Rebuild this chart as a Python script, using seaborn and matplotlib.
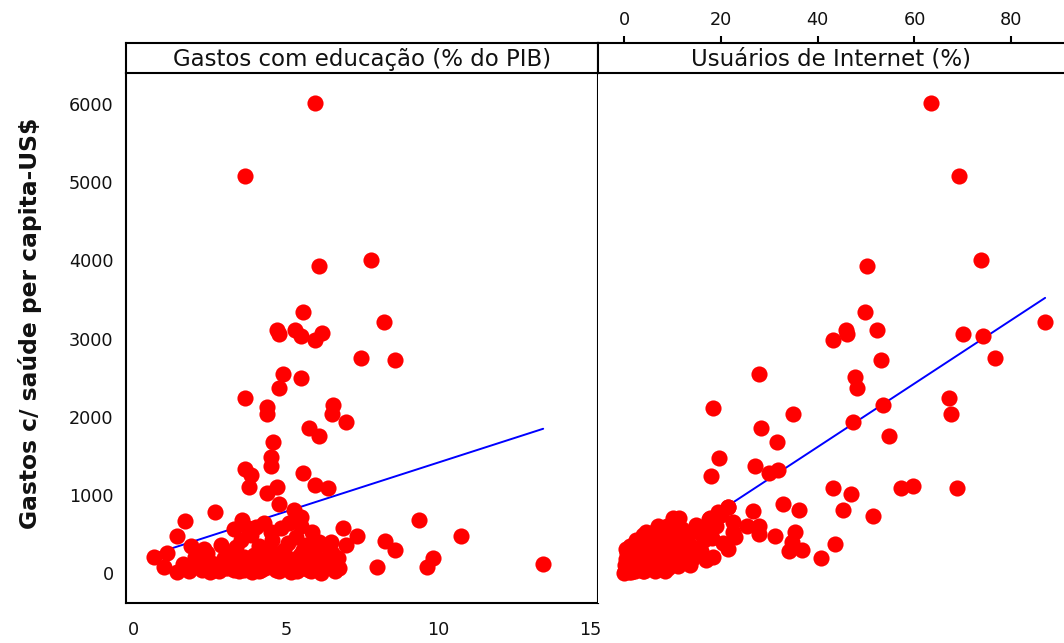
import matplotlib
matplotlib.use("Agg")
import matplotlib.pyplot as plt
import numpy as np
import pandas as pd
import seaborn as sns

# Health spending per capita (US$) against education spending (% of GDP)
edu_x = [5.96, 3.66, 6.09, 7.80, 5.56, 8.20, 4.70, 4.77, 5.30, 5.50, 5.95, 6.17,
         7.46, 8.58, 4.90, 5.49, 4.75, 3.66, 4.37, 4.37, 6.54, 6.52, 6.95, 5.75,
         6.09, 4.58, 4.50, 4.50, 3.65, 3.86, 3.78, 5.56, 5.95, 6.36, 4.37, 4.70,
         4.77, 9.37, 2.67, 1.68, 1.43, 10.75, 13.44, 7.99, 9.63, 9.83, 8.59, 8.26,
         7.33, 6.87, 0.66, 1.09, 1.00, 1.43, 1.89,
         1.98, 2.25, 2.41, 2.63, 2.85, 2.96, 3.07, 3.29, 3.40, 3.56, 3.51, 3.73,
         3.62, 3.95, 3.89, 4.17, 4.28, 4.39, 4.49, 4.66, 4.71, 4.82, 4.93, 5.15,
         5.26, 5.32, 5.48, 5.48, 5.54, 5.59, 5.75, 5.92, 6.08, 6.14, 6.47, 6.52,
         6.69, 6.74, 6.96,
         2.10, 2.35, 2.50, 2.75, 3.00, 3.15, 3.35, 3.50, 3.80, 3.85, 4.00, 4.10,
         4.25, 4.45, 4.55, 4.60, 4.85, 5.00, 5.05, 5.20, 5.35, 5.45, 5.65, 5.70,
         5.85, 6.00, 6.30, 6.40, 6.60, 4.00, 3.30, 5.10, 2.30,
         1.60, 1.80, 2.00, 2.20, 2.45, 2.60, 2.80, 2.90, 3.10, 3.25, 3.45, 3.60,
         3.75, 3.95, 4.10, 4.30, 4.50, 4.75, 4.95, 5.10, 5.30, 5.55, 5.80, 6.05,
         6.20]
edu_y = [6010, 5085, 3935, 4005, 3340, 3215, 3110, 3055, 3110, 3035, 2980, 3070,
         2750, 2725, 2545, 2495, 2365, 2240, 2120, 2035, 2145, 2035, 1935, 1860,
         1755, 1675, 1490, 1375, 1325, 1255, 1095, 1275, 1120, 1090, 1020, 1095,
         885, 680, 775, 660, 475, 475, 120, 70, 70, 195, 295, 405,
         475, 575, 200, 255, 80, 15, 350,
         100, 40, 250, 40, 360, 190, 270, 40, 145, 680, 420, 570,
         40, 230, 15, 40, 635, 295, 530, 40, 165, 570, 295, 15,
         805, 465, 720, 595, 295, 145, 40, 270, 400, 0, 400, 250,
         190, 60, 360,
         160, 110, 10, 120, 60, 210, 330, 100, 160, 480, 80, 350,
         200, 110, 420, 260, 60, 200, 380, 110, 30, 230, 360, 120,
         520, 190, 90, 300, 20, 590, 560, 640, 300,
         120, 30, 200, 80, 150, 60, 20, 110, 60, 150, 20, 200,
         90, 140, 20, 60, 180, 20, 130, 80, 180, 60, 20, 100,
         170]

# Health spending per capita (US$) against internet users (%)
net_x = [63.4, 69.2, 50.2, 73.7, 49.8, 87.0, 45.8, 46.1, 43.1, 52.3, 70.0, 74.2,
         53.0, 76.6, 27.9, 47.7, 48.1, 67.1, 67.6, 53.5, 18.4, 47.3, 34.9, 28.3,
         54.7, 31.6, 19.6, 27.0, 18.0, 29.9, 31.9, 43.1, 46.9, 57.2, 59.7, 68.8,
         32.9, 36.1, 45.2, 51.5, 43.5, 40.7, 31.2, 35.3, 34.1, 36.7, 34.6, 26.6,
         27.9, 27.9, 25.3, 21.5, 20.0, 22.4, 21.5, 18.4, 17.5, 18.2, 15.3, 11.4,
         7.0, 3.8,
         0.2, 0.5, 0.8, 1.0, 1.3, 1.5, 1.8, 2.0, 2.3, 2.6, 2.9, 0.4, 1.1, 0.7,
         1.6, 2.2, 0.9, 0.3, 1.9, 2.7,
         3.2, 3.5, 3.8, 4.1, 4.4, 4.8, 5.0, 5.3, 5.7, 6.0, 6.3, 6.6, 7.0, 7.4,
         7.8, 3.0, 4.5, 5.5, 6.1, 7.5, 3.6, 4.2, 5.9,
         8.2, 8.6, 9.0, 9.4, 9.9, 10.3, 10.8, 11.2, 11.7, 12.3, 12.9, 13.6, 14.2,
         14.8, 8.8, 10.0, 12.0, 13.2, 9.6,
         15.9, 16.5, 17.0, 19.0, 19.5, 20.5, 21.5, 22.5, 23.0, 16.0, 17.7,
         0.1, 0.6, 1.2, 1.7, 2.4, 2.8, 3.3, 3.9, 4.6, 5.2, 5.6, 6.4, 6.9, 7.2,
         8.0, 9.2, 10.6, 11.5, 12.6, 14.0, 0.0, 1.4, 2.5, 4.0, 8.4]
net_y = [6010, 5085, 3935, 4005, 3340, 3215, 3110, 3055, 2980, 3110, 3060, 3035,
         2725, 2750, 2545, 2505, 2365, 2240, 2035, 2145, 2110, 1935, 2040, 1860,
         1755, 1675, 1475, 1375, 1245, 1275, 1320, 1090, 1015, 1090, 1115, 1090,
         885, 810, 810, 735, 375, 195, 475, 520, 275, 295, 400, 795,
         605, 500, 595, 840, 740, 530, 305, 210, 690, 445, 530, 700,
         600, 485,
         20, 80, 150, 10, 60, 200, 30, 110, 250, 50, 160, 300, 230, 120,
         100, 20, 40, 180, 330, 300,
         80, 180, 30, 270, 120, 380, 60, 200, 310, 120, 30, 420, 240, 90,
         330, 400, 520, 450, 530, 170, 350, 20, 60,
         160, 450, 60, 290, 520, 180, 380, 90, 290, 430, 200, 100, 330,
         610, 600, 700, 560, 480, 120,
         280, 420, 170, 600, 785, 380, 850, 650, 460, 560, 700,
         100, 250, 350, 150, 420, 80, 260, 140, 300, 420, 110, 250, 380, 520,
         280, 400, 260, 480, 330, 180, 5, 10, 170, 440, 20]

panel_titles = ["Gastos com educação (% do PIB)", "Usuários de Internet (%)"]
y_title = "Gastos c/ saúde per capita-US$"
y_ticks = [0, 1000, 2000, 3000, 4000, 5000, 6000]
edu_ticks = [0, 5, 10, 15]
net_ticks = [0, 20, 40, 60, 80]

sns.set_theme(style="white")
plt.rcParams["font.family"] = ["DejaVu Sans"]

W, H = 1064, 643
fig = plt.figure(figsize=(W / 100, H / 100), dpi=100)


def box(x0, y0, x1, y1):
    return [x0 / W, 1 - y1 / H, (x1 - x0) / W, (y1 - y0) / H]


ax_l = fig.add_axes(box(126, 73, 598, 603))
ax_r = fig.add_axes(box(598, 73, 1064, 603), sharey=ax_l)
st_l = fig.add_axes(box(126, 43, 598, 73))
st_r = fig.add_axes(box(598, 43, 1064, 73))

edu = pd.DataFrame({"edu": edu_x, "saude": edu_y})
net = pd.DataFrame({"net": net_x, "saude": net_y})

dot = dict(s=135, linewidths=0, alpha=1, zorder=3)
fit = dict(color="#0000ff", lw=1.4, zorder=2)
sns.regplot(data=edu, x="edu", y="saude", ax=ax_l, ci=None, color="#ff0000",
            scatter_kws=dot, line_kws=fit)
sns.regplot(data=net, x="net", y="saude", ax=ax_r, ci=None, color="#ff0000",
            scatter_kws=dot, line_kws=fit)

ax_l.set_xlim(-0.26, 15.24)
ax_r.set_xlim(-5.4, 90.9)
st_r.set_xlim(-5.4, 90.9)
ax_l.set_ylim(-385, 6400)
for ax in (ax_l, ax_r, st_l, st_r):
    ax.set_xlabel("")
    ax.set_ylabel("")
    ax.set_facecolor("white")

lw = 1.5
tick_kw = dict(direction="out", length=5, width=lw, colors="black",
               labelsize=12.7, labelcolor="#111111")

# left panel: y axis and bottom x axis
ax_l.set_yticks(y_ticks)
ax_l.set_xticks(edu_ticks)
ax_l.tick_params(axis="both", pad=4, **tick_kw)
ax_l.tick_params(axis="x", pad=8)
for side, show in dict(left=True, bottom=True, right=True, top=False).items():
    ax_l.spines[side].set_visible(show)
    ax_l.spines[side].set_linewidth(lw)
    ax_l.spines[side].set_color("black")

# right panel: no axes of its own, x axis sits above the strip
ax_r.tick_params(left=False, labelleft=False, bottom=False, labelbottom=False)
for side in ("left", "right", "top", "bottom"):
    ax_r.spines[side].set_visible(False)

for st, title in zip((st_l, st_r), panel_titles):
    st.set_yticks([])
    for side in ("left", "right", "top", "bottom"):
        st.spines[side].set_linewidth(lw)
        st.spines[side].set_color("black")
    st.text(0.5, 0.45, title, transform=st.transAxes, ha="center",
            va="center", fontsize=16.5, color="#111111")
st_l.set_xticks([])
st_r.spines["right"].set_visible(False)
st_r.set_xticks(net_ticks)
st_r.xaxis.tick_top()
st_r.tick_params(axis="x", top=True, bottom=False, labeltop=True,
                 labelbottom=False, pad=5, **tick_kw)

fig.text(30 / W, 1 - 323 / H, y_title, rotation=90, ha="center", va="center",
         fontsize=16.8, fontweight="bold", color="#111111")

fig.savefig("out.png", dpi=100, facecolor="white")
